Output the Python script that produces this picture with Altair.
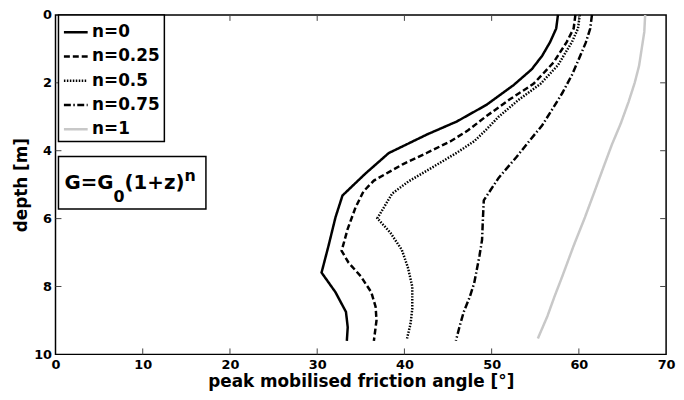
import altair as alt
import pandas as pd

# ---- data ----
series_names = ["n=0", "n=0.25", "n=0.5", "n=0.75", "n=1"]

depth_n0 = [0, 0.4, 0.8, 1.2, 1.6, 2.07, 2.65, 3.14, 3.52, 4.07, 4.68, 5.32, 5.96, 6.8, 7.59, 8.17, 8.75, 9.2, 9.6]
angle_n0 = [57.6, 57.4, 56.7, 55.8, 54.6, 52.5, 49.4, 46.0, 42.6, 38.2, 35.5, 32.9, 32.1, 31.3, 30.5, 32.1, 33.3, 33.5, 33.4]

depth_n025 = [0, 0.4, 0.8, 1.4, 2.03, 2.5, 3.0, 3.4, 3.72, 4.06, 4.4, 4.88, 5.2, 5.67, 6.3, 6.95, 7.3, 7.7, 8.17, 8.6, 9.0, 9.6]
angle_n025 = [59.6, 59.4, 58.6, 57.1, 54.8, 52.0, 49.3, 47.3, 45.3, 42.6, 39.8, 36.5, 35.3, 34.4, 33.5, 32.8, 33.6, 35.0, 36.2, 36.7, 36.8, 36.5]

depth_n05 = [0, 0.4, 0.8, 1.48, 2.03, 2.5, 3.0, 3.4, 3.72, 4.06, 4.4, 4.9, 5.26, 5.99, 6.42, 6.92, 7.44, 8.0, 8.66, 9.1, 9.53]
angle_n05 = [60.1, 59.9, 59.2, 57.6, 55.6, 53.1, 50.8, 49.3, 48.0, 46.0, 43.8, 40.5, 38.6, 36.9, 38.4, 39.7, 40.4, 40.9, 40.9, 40.7, 40.3]

depth_n075 = [0, 0.4, 0.81, 1.3, 1.77, 2.3, 2.76, 3.25, 3.72, 4.2, 4.8, 5.46, 6.0, 6.63, 7.1, 7.9, 8.3, 8.75, 9.2, 9.6]
angle_n075 = [61.5, 61.3, 60.8, 60.0, 59.2, 58.1, 57.0, 55.8, 54.3, 52.8, 50.8, 49.1, 49.0, 48.9, 48.6, 48.0, 47.5, 46.8, 46.3, 45.9]

depth_n1 = [0, 0.5, 1.0, 1.5, 2.0, 2.56, 3.2, 3.81, 4.5, 5.2, 5.96, 6.8, 7.7, 8.3, 8.87, 9.53]
angle_n1 = [67.6, 67.5, 67.2, 66.9, 66.4, 65.7, 64.8, 63.8, 62.8, 61.8, 60.7, 59.4, 58.1, 57.2, 56.4, 55.3]

x_ticks = [10, 20, 30, 40, 50, 60]
y_ticks = [2, 4, 6, 8]

# ---- styling ----
colors = ["black", "black", "black", "black", "#c8c8c8"]
dashes = [[1, 0], [6, 3], [1.5, 1.5], [7, 2.5, 1.5, 2.5], [1, 0]]
FONT = "DejaVu Sans"
W, H = 617, 343

series_depths = [depth_n0, depth_n025, depth_n05, depth_n075, depth_n1]
series_angles = [angle_n0, angle_n025, angle_n05, angle_n075, angle_n1]
rows = []
for name, ds, angs in zip(series_names, series_depths, series_angles):
    for d, a in zip(ds, angs):
        rows.append({"series": name, "depth": d, "angle": a})
df = pd.DataFrame(rows)

xscale = alt.Scale(domain=[0, 70], nice=False)
yscale = alt.Scale(domain=[0, 10], reverse=True, nice=False)

legend = alt.Legend(
    title=None, orient="none", legendX=3, legendY=0,
    symbolType="stroke", symbolSize=576, symbolStrokeWidth=2.5,
    labelFont=FONT, labelFontWeight="bold", labelFontSize=17, labelOffset=3,
    rowPadding=2.5, padding=4, strokeColor="black", fillColor="white",
)

lines = alt.Chart(df).mark_line(strokeWidth=2.5).encode(
    x=alt.X("angle:Q", scale=xscale,
            axis=alt.Axis(values=[0, 10, 20, 30, 40, 50, 60, 70], title="peak mobilised friction angle [°]")),
    y=alt.Y("depth:Q", scale=yscale,
            axis=alt.Axis(values=[0, 2, 4, 6, 8, 10], title="depth [m]")),
    color=alt.Color("series:N", scale=alt.Scale(domain=series_names, range=colors), legend=legend),
    strokeDash=alt.StrokeDash("series:N", scale=alt.Scale(domain=series_names, range=dashes), legend=legend),
    order=alt.Order("depth:Q"),
)

xt = pd.DataFrame({"t": x_ticks})
yt = pd.DataFrame({"t": y_ticks})
TL = 6
tick_color = "#444444"
xb = alt.Chart(xt).mark_rule(color=tick_color, strokeWidth=1).encode(
    x=alt.X("t:Q", scale=xscale), y=alt.value(H), y2=alt.value(H - TL))
xtop = alt.Chart(xt).mark_rule(color=tick_color, strokeWidth=1).encode(
    x=alt.X("t:Q", scale=xscale), y=alt.value(0), y2=alt.value(TL))
yl = alt.Chart(yt).mark_rule(color=tick_color, strokeWidth=1).encode(
    y=alt.Y("t:Q", scale=yscale), x=alt.value(0), x2=alt.value(TL))
yr = alt.Chart(yt).mark_rule(color=tick_color, strokeWidth=1).encode(
    y=alt.Y("t:Q", scale=yscale), x=alt.value(W), x2=alt.value(W - TL))

one = pd.DataFrame({"k": [0]})
box = alt.Chart(one).mark_rect(fill="white", stroke="black", strokeWidth=1.5).encode(
    x=alt.value(3), x2=alt.value(152), y=alt.value(143), y2=alt.value(196))

main_size = 20
small_size = 16
w_GeqG = (0.821 + 0.838 + 0.821) * main_size
w_0 = 0.696 * small_size
w_paren = (0.457 + 0.696 + 0.838 + 0.582 + 0.457) * main_size
x0 = 9
base_y = 176

def txt(s, x, y, size):
    return alt.Chart(one).mark_text(
        text=s, align="left", baseline="alphabetic", font=FONT, fontWeight="bold",
        fontSize=size, color="black").encode(x=alt.value(x), y=alt.value(y))

t1 = txt("G=G", x0, base_y, main_size)
t2 = txt("0", x0 + w_GeqG, base_y + 13, small_size)
t3 = txt("(1+z)", x0 + w_GeqG + w_0, base_y, main_size)
t4 = txt("n", x0 + w_GeqG + w_0 + w_paren, base_y - 8, small_size)

chart = alt.layer(lines, xb, xtop, yl, yr, box, t1, t2, t3, t4).properties(
    width=W, height=H,
    autosize=alt.AutoSizeParams(type="none"),
    padding={"left": 48, "top": 5, "right": 10, "bottom": 36},
).configure_view(
    stroke="black", strokeWidth=1.5
).configure_axis(
    domain=False, grid=False, ticks=False,
    labelFont=FONT, labelFontWeight="bold", labelFontSize=13, labelColor="black",
    labelPadding=4, labelFlush=False,
    titleFont=FONT, titleFontWeight="bold", titleFontSize=17, titleColor="black",
).configure_axisX(titlePadding=2).configure_axisY(titlePadding=3).configure_legend(
    strokeWidth=1.5
)

chart.save("out.html", embed_options={"renderer": "svg", "actions": False})
